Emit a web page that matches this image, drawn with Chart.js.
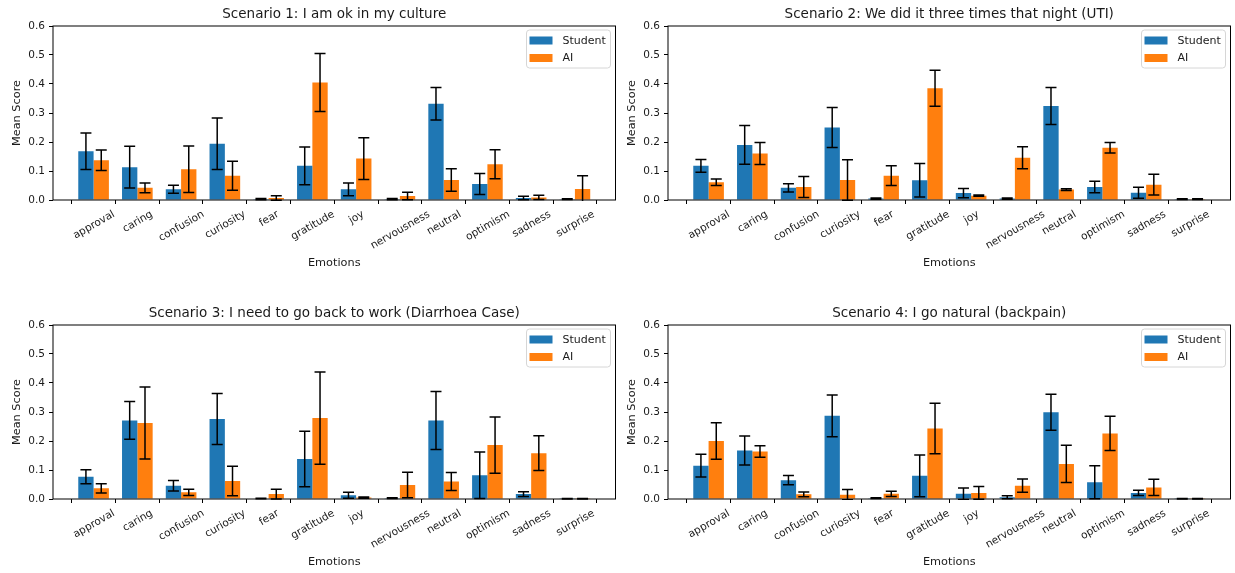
<!DOCTYPE html>
<html>
<head>
<meta charset="utf-8">
<script src="https://cdn.jsdelivr.net/npm/chart.js@4.4.1/dist/chart.umd.min.js"></script>
<style>
  body { margin: 0; background: #fff; }
  .panel { position: absolute; width: 620px; height: 280px; }
</style>
</head>
<body>
<div class="panel" style="left:0;top:0"><canvas id="c1"></canvas></div>
<div class="panel" style="left:615px;top:0"><canvas id="c2"></canvas></div>
<div class="panel" style="left:0;top:299px"><canvas id="c3"></canvas></div>
<div class="panel" style="left:615px;top:299px"><canvas id="c4"></canvas></div>
<script>
const emotions = ['approval', 'caring', 'confusion', 'curiosity', 'fear', 'gratitude', 'joy',
  'nervousness', 'neutral', 'optimism', 'sadness', 'surprise'];
const yTicks = [0.0, 0.1, 0.2, 0.3, 0.4, 0.5, 0.6];

const titles = [
  'Scenario 1: I am ok in my culture',
  'Scenario 2: We did it three times that night (UTI)',
  'Scenario 3: I need to go back to work (Diarrhoea Case)',
  'Scenario 4: I go natural (backpain)'
];

// scenario 1
const s1Student    = [0.168, 0.113, 0.037, 0.194, 0.003, 0.118, 0.037, 0.003, 0.332, 0.055, 0.007, 0.003];
const s1StudentErr = [0.063, 0.072, 0.014, 0.089, 0.002, 0.065, 0.022, 0.002, 0.056, 0.036, 0.006, 0.001];
const s1AI         = [0.137, 0.042, 0.106, 0.084, 0.007, 0.405, 0.143, 0.014, 0.069, 0.123, 0.009, 0.038];
const s1AIErr      = [0.035, 0.017, 0.080, 0.050, 0.008, 0.100, 0.072, 0.013, 0.039, 0.050, 0.007, 0.046];

// scenario 2
const s2Student    = [0.118, 0.190, 0.042, 0.250, 0.005, 0.068, 0.024, 0.005, 0.324, 0.045, 0.025, 0.003];
const s2StudentErr = [0.022, 0.067, 0.014, 0.069, 0.002, 0.058, 0.016, 0.002, 0.064, 0.020, 0.019, 0.001];
const s2AI         = [0.061, 0.160, 0.045, 0.069, 0.084, 0.385, 0.015, 0.146, 0.036, 0.180, 0.053, 0.003];
const s2AIErr      = [0.011, 0.038, 0.036, 0.070, 0.034, 0.062, 0.002, 0.038, 0.003, 0.018, 0.036, 0.001];

// scenario 3
const s3Student    = [0.077, 0.271, 0.046, 0.276, 0.002, 0.138, 0.013, 0.003, 0.271, 0.082, 0.017, 0.001];
const s3StudentErr = [0.024, 0.065, 0.018, 0.088, 0.001, 0.096, 0.010, 0.001, 0.100, 0.080, 0.008, 0.001];
const s3AI         = [0.037, 0.262, 0.023, 0.062, 0.017, 0.279, 0.005, 0.048, 0.060, 0.186, 0.158, 0.001];
const s3AIErr      = [0.016, 0.124, 0.011, 0.051, 0.017, 0.159, 0.002, 0.044, 0.031, 0.097, 0.060, 0.001];

// scenario 4
const s4Student    = [0.115, 0.167, 0.065, 0.287, 0.003, 0.080, 0.018, 0.006, 0.299, 0.058, 0.021, 0.001];
const s4StudentErr = [0.039, 0.050, 0.016, 0.072, 0.001, 0.072, 0.020, 0.005, 0.062, 0.057, 0.009, 0.001];
const s4AI         = [0.200, 0.164, 0.016, 0.015, 0.018, 0.243, 0.021, 0.046, 0.121, 0.226, 0.040, 0.001];
const s4AIErr      = [0.063, 0.020, 0.008, 0.018, 0.009, 0.087, 0.022, 0.023, 0.064, 0.059, 0.028, 0.001];

const scenarios = [
  [s1Student, s1StudentErr, s1AI, s1AIErr],
  [s2Student, s2StudentErr, s2AI, s2AIErr],
  [s3Student, s3StudentErr, s3AI, s3AIErr],
  [s4Student, s4StudentErr, s4AI, s4AIErr]
];

const FONT = 'DejaVu Sans';
const TEXT = '#1a1a1a';
const TICK_SIZE = 10.5;

// error bars drawn on top of the bars
const errorBars = {
  id: 'errorBars',
  afterDatasetsDraw(chart) {
    const ctx = chart.ctx;
    const y = chart.scales.y;
    const area = chart.chartArea;
    ctx.save();
    ctx.beginPath();
    ctx.rect(area.left, area.top - 1, area.right - area.left, area.bottom - area.top + 2);
    ctx.clip();
    ctx.strokeStyle = '#000';
    ctx.lineWidth = 1.5;
    chart.data.datasets.forEach((ds, di) => {
      const meta = chart.getDatasetMeta(di);
      meta.data.forEach((bar, i) => {
        const v = ds.data[i].y;
        const e = ds.errors[i];
        const top = y.getPixelForValue(v + e);
        const bot = y.getPixelForValue(v - e);
        ctx.beginPath();
        ctx.moveTo(bar.x, top); ctx.lineTo(bar.x, bot);
        ctx.moveTo(bar.x - 5.5, top); ctx.lineTo(bar.x + 5.5, top);
        ctx.moveTo(bar.x - 5.5, bot); ctx.lineTo(bar.x + 5.5, bot);
        ctx.stroke();
      });
    });
    ctx.restore();
  }
};

// axes frame, title over the plot area, rotated x labels centred under the ticks, legend box
const frameLegend = {
  id: 'frameLegend',
  afterDraw(chart) {
    const ctx = chart.ctx;
    const a = chart.chartArea;
    const xs = chart.scales.x;
    ctx.save();
    ctx.strokeStyle = '#000';
    ctx.lineWidth = 1;
    ctx.strokeRect(a.left, a.top, a.right - a.left, a.bottom - a.top);

    ctx.font = '13.5px ' + FONT;
    ctx.fillStyle = TEXT;
    ctx.textAlign = 'center';
    ctx.textBaseline = 'middle';
    ctx.fillText(chart.options.plotTitle, (a.left + a.right) / 2, a.top - 12);

    // x tick labels, rotated 30 degrees with their bounding box centred on the tick
    ctx.font = TICK_SIZE + 'px ' + FONT;
    ctx.textBaseline = 'alphabetic';
    const ang = Math.PI / 6;
    const h = TICK_SIZE * 1.164;
    emotions.forEach((lab, i) => {
      const w = ctx.measureText(lab).width;
      const H = w * Math.sin(ang) + h * Math.cos(ang);
      const cx = xs.getPixelForTick(i);
      const cy = a.bottom + 7.5 + H / 2;
      ctx.save();
      ctx.translate(cx, cy);
      ctx.rotate(-ang);
      ctx.fillText(lab, 0, TICK_SIZE * 0.346);
      ctx.restore();
    });

    const w = 84, bh = 38;
    const bx = a.right - 5 - w, by = a.top + 4;
    ctx.beginPath();
    ctx.roundRect(bx, by, w, bh, 3);
    ctx.fillStyle = 'rgba(255,255,255,0.8)';
    ctx.fill();
    ctx.strokeStyle = '#d6d6d6';
    ctx.stroke();
    ctx.font = '11px ' + FONT;
    ctx.textAlign = 'left';
    ctx.textBaseline = 'middle';
    chart.data.datasets.forEach((ds, i) => {
      const ry = by + 10.5 + i * 17.5;
      ctx.fillStyle = ds.backgroundColor;
      ctx.fillRect(bx + 3, ry - 4, 23, 8);
      ctx.fillStyle = TEXT;
      ctx.fillText(ds.label, bx + 36, ry + 0.5);
    });
    ctx.restore();
  }
};

function makeChart(id, title, [stu, stuErr, ai, aiErr]) {
  return new Chart(document.getElementById(id), {
    type: 'bar',
    data: {
      datasets: [{
        label: 'Student',
        data: stu.map((v, i) => ({ x: i, y: v })),
        errors: stuErr,
        backgroundColor: '#1f77b4'
      }, {
        label: 'AI',
        data: ai.map((v, i) => ({ x: i, y: v })),
        errors: aiErr,
        backgroundColor: '#ff7f0e'
      }]
    },
    options: {
      plotTitle: title,
      animation: false,
      responsive: true,
      maintainAspectRatio: false,
      categoryPercentage: 0.7,
      barPercentage: 1.0,
      layout: { padding: { top: 26, right: 4.5, bottom: 10, left: 0 } },
      plugins: {
        legend: { display: false },
        tooltip: { enabled: false },
        title: { display: false }
      },
      scales: {
        x: {
          type: 'linear',
          offset: false,
          min: -0.9275,
          max: 11.9275,
          afterBuildTicks: s => { s.ticks = emotions.map((_, i) => ({ value: i })); },
          afterFit: s => { s.height = 70; },
          ticks: { display: false },
          grid: { drawOnChartArea: false, drawTicks: true, tickLength: 4, tickColor: '#000' },
          border: { display: false },
          title: {
            display: true,
            text: 'Emotions',
            color: TEXT,
            font: { family: FONT, size: 11.3 },
            padding: { top: 0, bottom: 0 }
          }
        },
        y: {
          min: 0,
          max: 0.6,
          afterBuildTicks: s => { s.ticks = yTicks.map(v => ({ value: v })); },
          afterFit: s => { s.width = 53; },
          ticks: {
            color: TEXT,
            padding: 4,
            font: { family: FONT, size: TICK_SIZE },
            callback: v => v.toFixed(1)
          },
          grid: { drawOnChartArea: false, drawTicks: true, tickLength: 4, tickColor: '#000' },
          border: { display: false },
          title: {
            display: true,
            text: 'Mean Score',
            color: TEXT,
            font: { family: FONT, size: 11.3 },
            padding: { top: 10, bottom: 0 }
          }
        }
      }
    },
    plugins: [errorBars, frameLegend]
  });
}

['c1', 'c2', 'c3', 'c4'].forEach((id, k) => makeChart(id, titles[k], scenarios[k]));
</script>
</body>
</html>
